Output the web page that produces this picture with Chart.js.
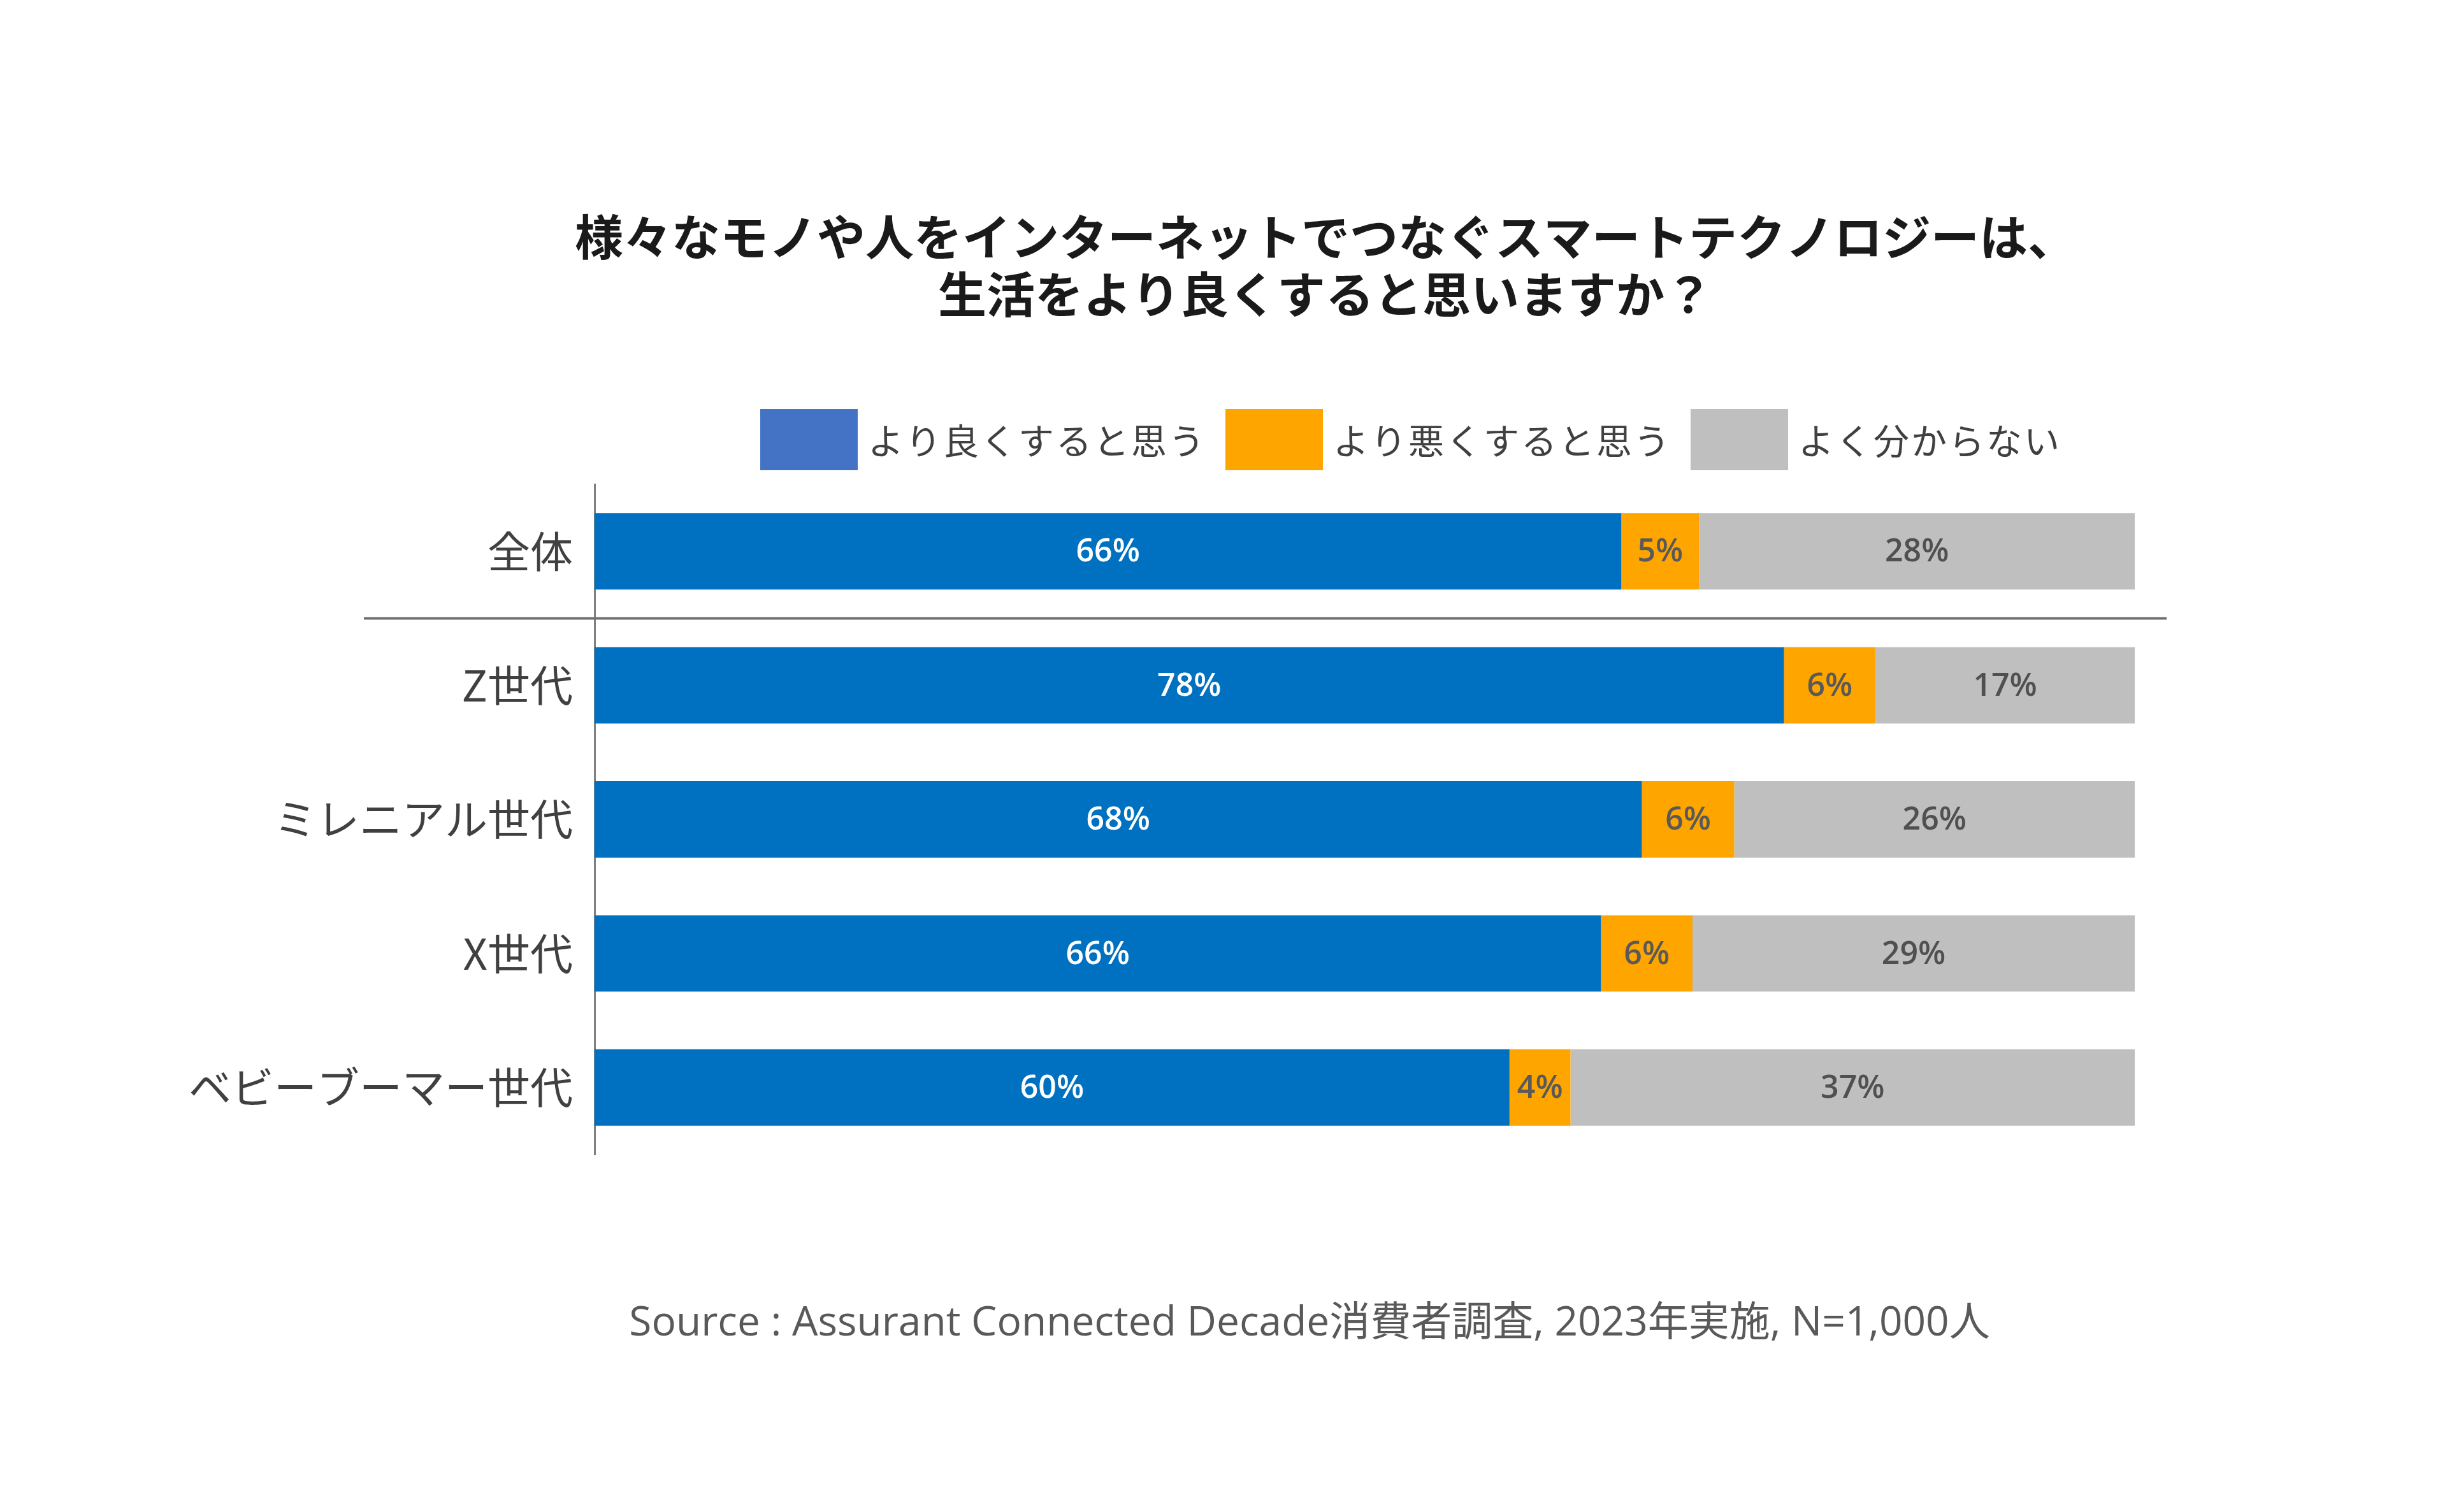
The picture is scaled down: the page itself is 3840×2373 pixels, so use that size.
<!DOCTYPE html>
<html>
<head>
<meta charset="utf-8">
<title>スマートテクノロジー調査</title>
<script src="https://cdn.jsdelivr.net/npm/chart.js"></script>
<style>
body{margin:0;background:#fff;overflow:hidden}
canvas{display:block}
</style>
</head>
<body>
<canvas id="chart" width="3840" height="2373"></canvas>
<script>
const categories = ['全体', 'Z世代', 'ミレニアル世代', 'X世代', 'ベビーブーマー世代'];
const better = [66, 78, 68, 66, 60];
const worse = [5, 6, 6, 6, 4];
const unknown = [28, 17, 26, 29, 37];
const seriesNames = ['より良くすると思う', 'より悪くすると思う', 'よく分からない'];
const titleLines = ['様々なモノや人をインターネットでつなぐスマートテクノロジーは、', '生活をより良くすると思いますか？'];
const sourceText = 'Source : Assurant Connected Decade消費者調査, 2023年実施, N=1,000人';

// bars are drawn as share of each row so every row fills 100%
const rowSum = categories.map((c, i) => better[i] + worse[i] + unknown[i]);
const share = arr => arr.map((v, i) => v / rowSum[i] * 100);

const JP = '"Noto Sans CJK JP", "Noto Sans", sans-serif';
const LATIN = '"Open Sans", "Noto Sans CJK JP", sans-serif';

const barColors = ['#0070C0', '#FFA500', '#BFBFBF'];
const legendColors = ['#4472C4', '#FFA500', '#BFBFBF'];
const labelColors = ['#ffffff', '#595959', '#505050'];
const raws = [better, worse, unknown];

const extras = {
  id: 'extras',
  afterDatasetsDraw(chart) {
    const ctx = chart.ctx;
    ctx.save();
    ctx.font = '600 50px ' + LATIN;
    ctx.textAlign = 'center';
    ctx.textBaseline = 'middle';
    chart.data.datasets.forEach((ds, d) => {
      chart.getDatasetMeta(d).data.forEach((el, i) => {
        ctx.fillStyle = labelColors[d];
        ctx.fillText(raws[d][i] + '%', (el.x + el.base) / 2, el.y + 2);
      });
    });
    ctx.restore();
  },
  afterDraw(chart) {
    const ctx = chart.ctx;
    const y = chart.scales.y;
    ctx.save();
    // separator between total and generations
    const sepY = (y.getPixelForValue(0) + y.getPixelForValue(1)) / 2;
    ctx.strokeStyle = '#707070';
    ctx.lineWidth = 4;
    ctx.beginPath();
    ctx.moveTo(571, sepY);
    ctx.lineTo(3400, sepY);
    ctx.stroke();

    // title
    ctx.fillStyle = '#1a1a1a';
    ctx.textAlign = 'center';
    ctx.textBaseline = 'middle';
    ctx.font = 'bold 76px ' + JP;
    ctx.fillText(titleLines[0], 2080, 372);
    ctx.fillText(titleLines[1], 2080, 462);

    // legend
    ctx.font = '56px ' + JP;
    ctx.letterSpacing = '3px';
    ctx.textAlign = 'left';
    let x = 1193;
    seriesNames.forEach((name, k) => {
      ctx.fillStyle = legendColors[k];
      ctx.fillRect(x, 642, 153, 96);
      x += 153 + 16;
      ctx.fillStyle = '#404040';
      ctx.fillText(name, x, 692);
      x += ctx.measureText(name).width + 30;
    });
    ctx.letterSpacing = '0px';

    // source
    ctx.textAlign = 'center';
    ctx.fillStyle = '#595959';
    ctx.font = '64px ' + LATIN;
    ctx.fillText(sourceText, 2055, 2078);
    ctx.restore();
  }
};

new Chart(document.getElementById('chart'), {
  type: 'bar',
  data: {
    labels: categories,
    datasets: seriesNames.map((name, d) => ({
      label: name,
      data: share(raws[d]),
      backgroundColor: barColors[d],
      borderWidth: 0,
      categoryPercentage: 1,
      barPercentage: 0.57
    }))
  },
  options: {
    indexAxis: 'y',
    responsive: false,
    animation: false,
    layout: { padding: { top: 760, bottom: 561, left: 0, right: 490 } },
    plugins: { legend: { display: false }, tooltip: { enabled: false }, title: { display: false } },
    scales: {
      x: { stacked: true, min: 0, max: 100, display: false },
      y: {
        stacked: true,
        grid: { display: false },
        border: { display: true, color: '#808080', width: 3 },
        ticks: { color: '#404040', padding: 26, font: { size: 67, family: JP } },
        afterFit(scale) { scale.width = 933; }
      }
    }
  },
  plugins: [extras]
});
</script>
</body>
</html>
